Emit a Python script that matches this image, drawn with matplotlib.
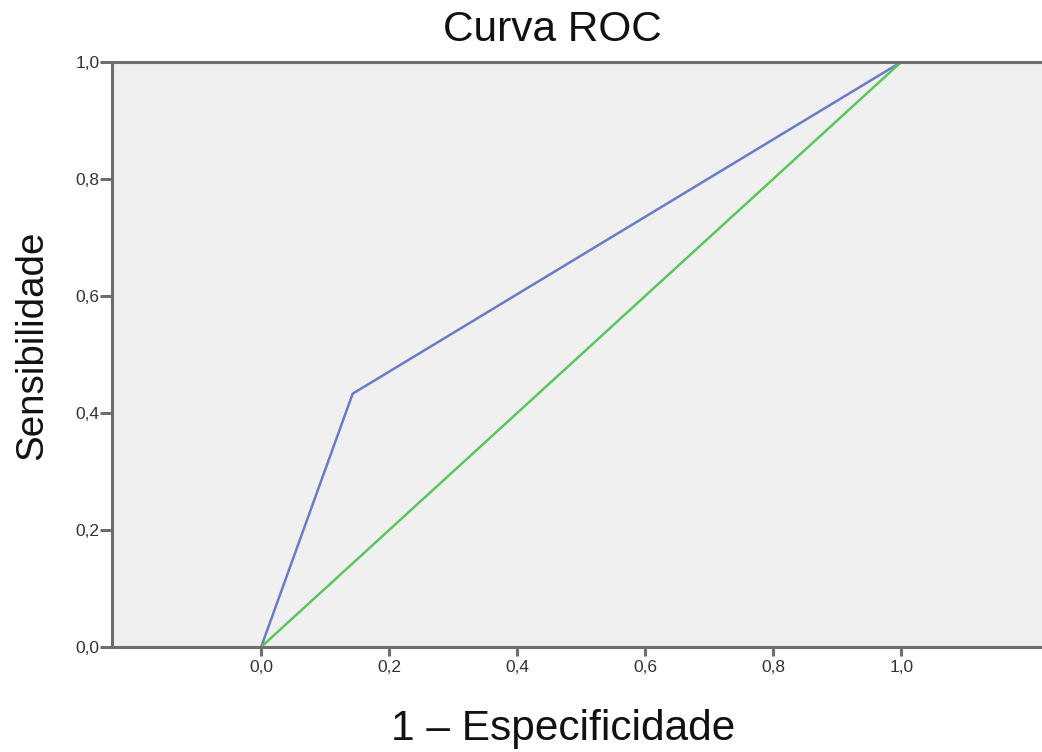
import matplotlib
matplotlib.use("Agg")
import matplotlib.pyplot as plt

# Data
roc_fpr = [0.0, 0.143, 1.0]
roc_tpr = [0.0, 0.433, 1.0]
ref_x = [0.0, 1.0]
ref_y = [0.0, 1.0]
ticks = [0.0, 0.2, 0.4, 0.6, 0.8, 1.0]
tick_labels = ["0,0", "0,2", "0,4", "0,6", "0,8", "1,0"]

plt.rcParams['font.family'] = ['Liberation Sans', 'DejaVu Sans']

W, H = 1042, 752
fig = plt.figure(figsize=(W / 100, H / 100), dpi=100)
ax = fig.add_axes([112 / W, (H - 647) / H, (W - 112) / W, (647 - 62) / H])
ax.set_facecolor('#f0f0f0')

ax.plot(roc_fpr, roc_tpr, color='#6a7cc6', lw=1.8, solid_joinstyle='miter')
ax.plot(ref_x, ref_y, color='#5cc65c', lw=1.8, solid_capstyle='round')

ax.set_xlim(-0.233, 1.22)
ax.set_ylim(0, 1)
ax.set_xticks(ticks)
ax.set_xticklabels(tick_labels)
ax.set_yticks(ticks)
ax.set_yticklabels(tick_labels)

spine_color = '#6e6e6e'
for s in ['left', 'bottom', 'top']:
    ax.spines[s].set_color(spine_color)
    ax.spines[s].set_linewidth(2.2)
ax.spines['right'].set_visible(False)

ax.tick_params(axis='both', colors=spine_color, labelcolor='#333333',
               labelsize=12.5, width=2.2, direction='out')
ax.tick_params(axis='y', length=8.5, pad=0.5)
ax.tick_params(axis='x', length=6.5, pad=3)

fig.text(552 / W, 1 - 30 / H, "Curva ROC", ha='center', va='center',
         fontsize=30.5, color='#111111')
fig.text(563 / W, 1 - 729 / H, "1 – Especificidade", ha='center', va='center',
         fontsize=30.5, color='#111111')
fig.text(32 / W, 1 - 345 / H, "Sensibilidade", ha='center', va='center',
         rotation=90, fontsize=27.7, color='#111111')

fig.savefig("out.png", dpi=100)
